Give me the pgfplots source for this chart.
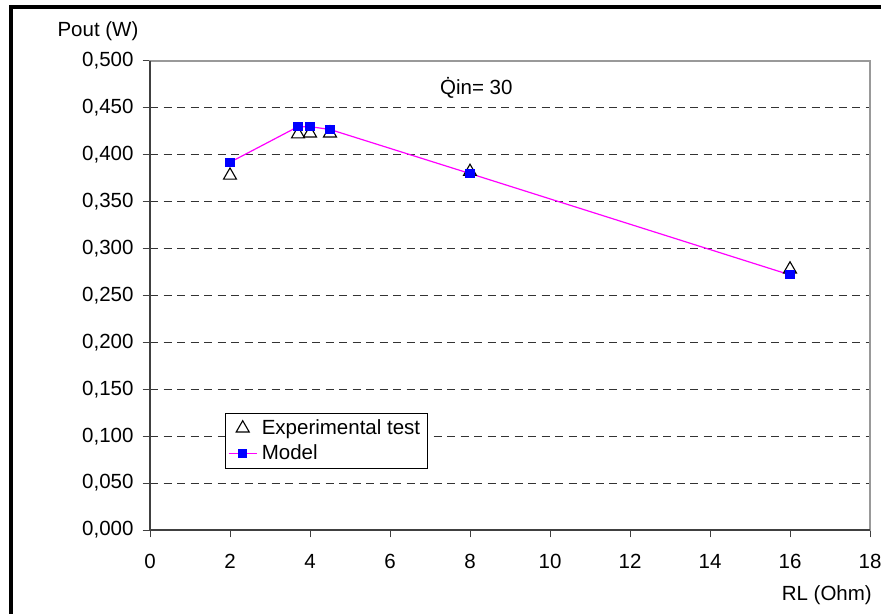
\documentclass[border=0pt]{standalone}
\usepackage{fontspec}
\setmainfont{Liberation Sans}
\usepackage{pgfplots}
\pgfplotsset{compat=1.18}
\definecolor{modelline}{RGB}{255,0,255}
\definecolor{modelmark}{RGB}{0,0,255}

\begin{document}
\fontsize{20.5bp}{24bp}\selectfont
\begin{tikzpicture}
\useasboundingbox (0,0) rectangle (881bp,614bp);
\fill[white] (0,0) rectangle (881bp,614bp);
% heavy frame along the left and top edges
\draw[line width=4.5bp, line join=miter] (11bp,0) -- (11bp,607bp) -- (881bp,607bp);

\begin{axis}[
  at={(150bp,84bp)}, anchor=south west,
  scale only axis, width=720bp, height=469bp,
  xmin=0, xmax=18, ymin=0, ymax=0.5,
  xtick={0,2,...,18},
  ytick={0,0.05,0.1,0.15,0.2,0.25,0.3,0.35,0.4,0.45,0.5},
  tick pos=left, tick align=outside,
  major tick length=7.5bp,
  tick style={black!75, line width=1bp},
  axis line style={black!40, line width=1.2bp},
  ymajorgrids,
  grid style={black!80, line width=0.9bp, dash pattern=on 8bp off 5.5bp},
  /pgf/number format/assume math mode=true,
  tick label style={font=\fontsize{20.5bp}{24bp}\selectfont},
  yticklabel style={/pgf/number format/.cd, fixed, fixed zerofill, precision=3, use comma, /tikz/.cd, xshift=-2bp},
  xticklabel style={yshift=-10bp},
  legend style={at={(0.1037,0.2495)}, anchor=north west,
    draw=black, line width=0.9bp, inner sep=3bp,
    nodes={inner xsep=4.5bp, inner ysep=2.8bp},
    font=\fontsize{20.5bp}{24bp}\selectfont,
    row sep=2bp},
  legend cell align=left,
  legend image code/.code={
    \draw[mark repeat=2,mark phase=2,#1] plot coordinates {(0bp,0bp) (14bp,0bp) (28bp,0bp)};},
  clip=false,
]
% measured output
\addplot[only marks, mark=triangle, mark size=7.5bp,
  mark options={draw=black, fill=white, line width=1.1bp}]
  coordinates {(2,0.378) (3.7,0.422) (4,0.423) (4.5,0.423) (8,0.382) (16,0.278)};
\addlegendentry{Experimental test}
% model prediction
\addplot[color=modelline, line width=1.2bp, mark=square*, mark size=4bp,
  mark options={draw=modelmark, fill=modelmark, solid}]
  coordinates {(2,0.392) (3.7,0.430) (4,0.430) (4.5,0.427) (8,0.380) (16,0.272)};
\addlegendentry{Model}

\node[anchor=west, inner sep=0pt] at (axis cs:7.25,0.471) {\.{Q}in= 30};
% darker axis lines on left and bottom
\draw[black!75, line width=1.2bp] (rel axis cs:0,1) -- (rel axis cs:0,0) -- (rel axis cs:1,0);
\end{axis}

\node[inner sep=0pt] at (98bp,583bp) {Pout (W)};
\node[anchor=east, inner sep=0pt] at (872bp,19bp) {RL (Ohm)};
\end{tikzpicture}
\end{document}
